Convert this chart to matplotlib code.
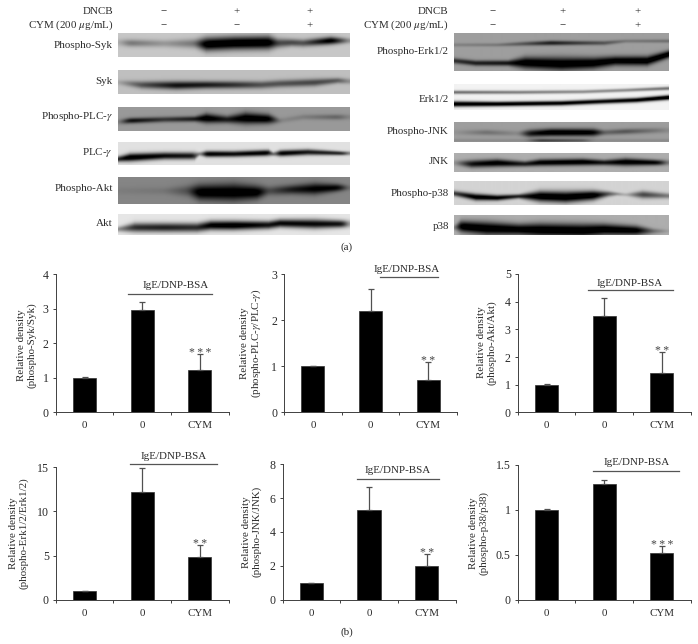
import numpy as np
import matplotlib
matplotlib.use("Agg")
import matplotlib.pyplot as plt

plt.rcParams['font.family'] = ['Liberation Serif', 'DejaVu Serif']
plt.rcParams['mathtext.fontset'] = 'stix'

W, H = 698, 644
TXT = '#2b2b2b'
AXC = '#404040'
FS = 7.9

# bar data
groups = ['0', '0', 'CYM']

syk_vals = [1.0, 2.96, 1.22]
syk_err = [0.02, 0.22, 0.46]
plc_vals = [1.0, 2.21, 0.70]
plc_err = [0.01, 0.46, 0.39]
akt_vals = [1.0, 3.49, 1.43]
akt_err = [0.01, 0.63, 0.74]
erk_vals = [1.0, 12.2, 4.8]
erk_err = [0.03, 2.7, 1.4]
jnk_vals = [1.0, 5.32, 1.97]
jnk_err = [0.01, 1.34, 0.71]
p38_vals = [1.0, 1.285, 0.52]
p38_err = [0.005, 0.045, 0.08]

# blot bands: x frac, y frac, darkness, sigma in px
b_psyk = [[[0,.38,.1,2],[.05,.4,.35,2],[.2,.42,.2,2],[.33,.42,.35,2.5],[.38,.45,1,3.5],[.5,.4,1,3.5],[.65,.38,1,3.5],
           [.69,.4,.55,2.5],[.75,.38,.55,2],[.8,.4,.5,2],[.92,.3,.95,2],[1,.3,.2,1.5]]]
b_syk = [[[0,.5,.1,1.5],[.1,.6,.5,2],[.25,.62,.8,2.2],[.38,.6,.75,2],[.5,.6,.65,2],[.62,.6,.5,2],[.7,.55,.5,2],
          [.85,.5,.55,2],[.95,.42,.45,1.5],[1,.45,.2,1.5]]]
b_pplc = [[[0,.6,.1,1.5],[.05,.55,.8,1.5],[.2,.5,.55,1.5],[.33,.48,.7,1.5],[.38,.45,1,2.5],[.47,.5,.7,2],[.55,.45,1,3],
           [.65,.48,.95,2.5],[.7,.55,.1,1.5],[.8,.4,.15,1.5],[.95,.4,.3,1.5],[1,.4,.1,1.5]]]
b_plc = [[[0,.72,.7,1.5],[.05,.65,1,2],[.2,.58,.85,1.8],[.33,.58,.8,1.8],[.35,.5,.1,1],[.38,.5,.95,1.5],[.5,.5,.85,1.5],
          [.65,.45,.95,1.5],[.67,.5,.2,1],[.7,.47,.95,1.5],[.82,.42,.8,1.5],[.97,.47,.75,1],[1,.47,.3,1]]]
b_pakt = [[[0,.5,.05,2],[.2,.5,.1,2],[.3,.5,.35,3],[.35,.55,1,4],[.5,.55,1,4.5],[.6,.55,1,3.5],[.65,.5,.35,2.5],
           [.75,.45,.7,2.5],[.85,.42,.9,3],[.95,.38,.85,2],[1,.38,.1,1.5]]]
b_akt = [[[0,.7,.3,1.5],[.07,.62,.7,2.5],[.2,.62,.75,2.5],[.34,.62,.7,2.5],[.4,.52,.9,2.5],[.5,.52,.95,2.5],
          [.65,.5,.8,2.2],[.7,.42,.85,2.2],[.85,.45,.85,2.5],[.97,.45,.8,2],[1,.45,.2,2]]]
b_perk = [[[0,.72,.6,1.5],[.1,.78,.7,1.5],[.25,.78,.75,1.5],[.33,.77,1,3],[.5,.8,1,3.5],[.65,.78,1,3],[.75,.72,.95,2.5],
           [.9,.72,1,2.5],[1,.55,1,2]],
          [[0,.3,.15,1],[.2,.3,.2,1],[.33,.27,.4,1.2],[.45,.25,.7,1.3],[.6,.25,.5,1.2],[.7,.25,.4,1.2],[.8,.2,.2,1],[1,.2,.25,1]]]
b_erk = [[[0,.75,.95,1.5],[.2,.75,.95,1.3],[.5,.72,.9,1.3],[.7,.65,.85,1.3],[.85,.6,.9,1.3],[1,.5,1,1.3]],
         [[0,.3,.45,1],[.3,.3,.4,1],[.6,.28,.35,1],[.8,.22,.35,1],[1,.15,.45,1]]]
b_pjnk = [[[0,.5,.05,1.5],[.15,.5,.25,1.5],[.3,.55,.1,1.5],[.35,.55,.75,2],[.45,.5,1,2],[.6,.5,.95,2],[.65,.5,.9,2],
           [.7,.5,.3,1.5],[.8,.45,.4,1.5],[.95,.4,.2,1.5],[1,.4,.1,1.5]],
          [[.33,.9,.1,1],[.4,.9,.5,1],[.6,.9,.35,1],[.65,.9,.1,1]]]
b_jnk = [[[0,.5,.1,1.5],[.08,.55,.8,2],[.2,.5,.95,2],[.33,.55,.7,1.5],[.4,.48,.9,1.8],[.6,.45,.95,1.8],[.7,.48,.75,1.5],
          [.8,.45,.95,2],[.95,.48,.85,1.5],[1,.48,.2,1.5]]]
b_pp38 = [[[0,.5,.6,1.5],[.1,.65,.95,1.8],[.2,.68,.9,1.5],[.3,.62,.7,1.2],[.4,.62,1,2.8],[.52,.65,1,3],[.65,.58,1,2.5],
           [.72,.52,.5,1.5],[.76,.52,.25,1],[.8,.55,.1,1],[.88,.55,.6,2],[1,.6,.35,1.5]]]
b_p38 = [[[0,.6,.1,1.5],[.03,.55,1,3],[.15,.65,1,3.5],[.3,.7,.95,3],[.4,.72,1,3.5],[.6,.75,1,3.5],[.7,.7,1,3],
          [.85,.75,.95,2.5],[.93,.78,.3,1.5],[1,.78,.05,1]]]

fig = plt.figure(figsize=(W / 100, H / 100), dpi=100)
bg = fig.add_axes([0, 0, 1, 1])
bg.axis('off')


def blot(x0, x1, y0, y1, label, lx, shade, bands, ly=None):
    w, h = int(x1 - x0), int(round(y1 - y0))
    xx = np.linspace(0, 1, w)
    yy = np.arange(h)[:, None]
    dark = np.zeros((h, w))
    for b in bands:
        b = np.array(b, float)
        yc = np.interp(xx, b[:, 0], b[:, 1]) * h
        amp = np.interp(xx, b[:, 0], b[:, 2])
        sig = np.interp(xx, b[:, 0], b[:, 3]) * 1.3
        # soften along x so lanes do not end abruptly
        kern = np.hanning(15) / np.hanning(15).sum()
        amp = np.convolve(np.pad(amp, 7, mode='edge'), kern, mode='valid')
        dark = dark + amp * np.exp(-(yy - yc) ** 2 / (2 * sig ** 2))
    img = shade * (1 - np.clip(dark * 1.15, 0, 1))
    bg.imshow(img, extent=[x0, x1, y1, y0], cmap='gray', vmin=0, vmax=1, aspect='auto', interpolation='bilinear')
    bg.text(lx, ly if ly else (y0 + y1) / 2 - 1, label, ha='right', va='center', fontsize=FS, color=TXT)


L0, L1 = 118, 350
R0, R1 = 453.7, 667.7
blot(L0, L1, 33, 57, 'Phospho-Syk', 113, .78, b_psyk, 45)
blot(L0, L1, 70, 94, 'Syk', 113, .75, b_syk, 81)
blot(L0, L1, 106.5, 130.5, 'Phospho-PLC-$\\gamma$', 113, .6, b_pplc, 116.5)
blot(L0, L1, 142.5, 165, 'PLC-$\\gamma$', 113, .88, b_plc, 152)
blot(L0, L1, 176.5, 203.5, 'Phospho-Akt', 113, .52, b_pakt, 188)
blot(L0, L1, 214, 235, 'Akt', 113, .9, b_akt, 223.5)
blot(R0, R1, 33, 71, 'Phospho-Erk1/2', 448.7, .62, b_perk, 51.5)
blot(R0, R1, 84, 110, 'Erk1/2', 448.7, .95, b_erk, 99)
blot(R0, R1, 122.5, 142, 'Phospho-JNK', 448.7, .62, b_pjnk, 131.5)
blot(R0, R1, 153, 172, 'JNK', 448.7, .68, b_jnk, 161)
blot(R0, R1, 181, 205, 'Phospho-p38', 448.7, .83, b_pp38, 193)
blot(R0, R1, 215, 235, 'p38', 448.7, .68, b_p38, 226.5)

bg.set_xlim(0, W)
bg.set_ylim(H, 0)

# treatment header
for lx, xs in [(113, (163.7, 236.7, 310)), (448.7, (493, 563, 638))]:
    bg.text(lx, 11.5, 'DNCB', ha='right', va='center', fontsize=FS, color=TXT)
    bg.text(lx, 25, 'CYM (200 $\\mu$g/mL)', ha='right', va='center', fontsize=FS, color=TXT)
    for x, s1, s2 in zip(xs, '\u2212++', '\u2212\u2212+'):
        bg.text(x, 12, s1, ha='center', va='center', fontsize=FS, color=TXT)
        bg.text(x, 26, s2, ha='center', va='center', fontsize=FS, color=TXT)

bg.text(347, 247, '(a)', ha='center', va='center', fontsize=8, color=TXT)
bg.text(347, 632, '(b)', ha='center', va='center', fontsize=8, color=TXT)


def panel(ax_x, y_top, y_zero, ticks, ticklabels, vals, err, stars, ylab, lab_x, lab_y, line, text_at):
    ax = fig.add_axes([ax_x / W, 1 - y_zero / H, 173 / W, (y_zero - y_top) / H])
    ax.patch.set_visible(False)
    pos = [0.5, 1.5, 2.5]
    ax.bar(pos, vals, width=0.4, color='black', edgecolor='#303030', linewidth=0.5)
    ax.errorbar(pos, vals, yerr=[[0, 0, 0], err], fmt='none', ecolor='#505050', elinewidth=0.9,
                capsize=2.4, capthick=0.9)
    ax.annotate(stars, (pos[2], vals[2] + err[2]), xytext=(0, -1.4), textcoords='offset points',
                ha='center', va='baseline', fontsize=8.5, color='#444444')
    ax.set_xlim(0, 3)
    ax.set_ylim(ticks[0], ticks[-1])
    ax.set_xticks([0, 1, 2, 3])
    ax.set_xticklabels([])
    ax.set_xticks(pos, groups, minor=True)
    ax.tick_params(axis='x', which='minor', length=0, pad=6.5, labelsize=FS, labelcolor=TXT)
    ax.tick_params(axis='x', which='major', length=2.5, width=0.7, color=AXC)
    ax.set_yticks(ticks, ticklabels)
    ax.tick_params(axis='y', length=2.5, width=0.7, color=AXC, pad=2.5, labelsize=8.6, labelcolor=TXT)
    for s in ['top', 'right']:
        ax.spines[s].set_visible(False)
    for s in ['left', 'bottom']:
        ax.spines[s].set_color(AXC)
        ax.spines[s].set_linewidth(0.7)
    bg.text(lab_x, lab_y, 'Relative density\n' + ylab, rotation=90, ha='center', va='center', ma='center',
            fontsize=FS, color=TXT, linespacing=1.12)
    bg.plot(line[:2], [line[2], line[2]], color='#555555', lw=0.9)
    bg.text(text_at[0], text_at[1], 'IgE/DNP-BSA', ha='center', va='center', fontsize=FS, color=TXT)


three = '*\u2009*\u2009*'
two = '*\u2009*'
panel(55.7, 274, 412.4, [0, 1, 2, 3, 4], ['0', '1', '2', '3', '4'], syk_vals, syk_err, three,
      '(phospho-Syk/Syk)', 26.5, 345, (128, 212, 294), (176, 285.5))
panel(284, 274.3, 412.4, [0, 1, 2, 3], ['0', '1', '2', '3'], plc_vals, plc_err, two,
      '(phospho-PLC-$\\gamma$/PLC-$\\gamma$)', 251.5, 343.5, (380, 437.7, 277), (406.7, 269))
panel(517.7, 274, 412.4, [0, 1, 2, 3, 4, 5], ['0', '1', '2', '3', '4', '5'], akt_vals, akt_err, two,
      '(phospho-Akt/Akt)', 486.5, 342.5, (588, 673, 290), (630, 283))
panel(55.7, 467.3, 599.7, [0, 5, 10, 15], ['0', '5', '10', '15'], erk_vals, erk_err, two,
      '(phospho-Erk1/2/Erk1/2)', 19, 533, (130, 216.7, 464), (173.7, 456))
panel(282.5, 464.3, 599.7, [0, 2, 4, 6, 8], ['0', '2', '4', '6', '8'], jnk_vals, jnk_err, two,
      '(phospho-JNK/JNK)', 252, 531.7, (356.7, 439, 478.7), (397.7, 470))
panel(517.7, 464.7, 599.7, [0, 0.5, 1, 1.5], ['0', '0.5', '1', '1.5'], p38_vals, p38_err, three,
      '(phospho-p38/p38)', 479, 533, (593, 679, 471), (636.7, 462.7))

bg.set_xlim(0, W)
bg.set_ylim(H, 0)

fig.savefig('out.png', dpi=100)
